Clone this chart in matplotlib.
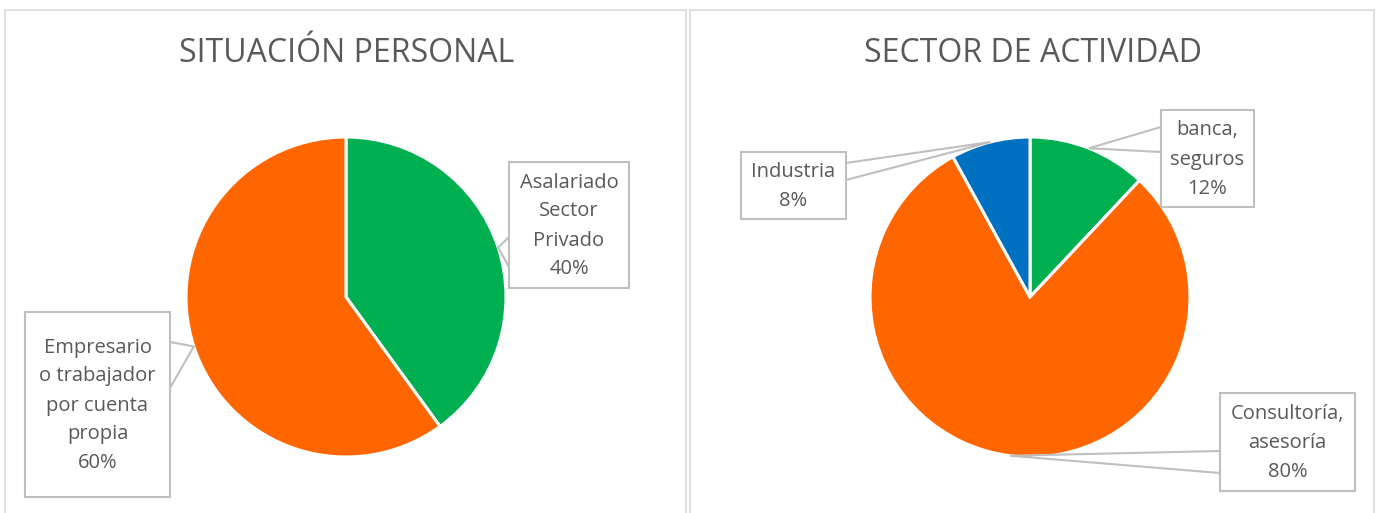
import matplotlib
matplotlib.use("Agg")
import matplotlib.pyplot as plt
from matplotlib.patches import Rectangle
import numpy as np

# ---------------- data ----------------
title_left = "SITUACIÓN PERSONAL"
cats_left = ["Asalariado\nSector\nPrivado", "Empresario\no trabajador\npor cuenta\npropia"]
vals_left = [40, 60]
colors_left = ["#00B050", "#FF6600"]

title_right = "SECTOR DE ACTIVIDAD"
cats_right = ["banca,\nseguros", "Consultoría,\nasesoría", "Industria"]
vals_right = [12, 80, 8]
colors_right = ["#00B050", "#FF6600", "#0070C0"]

# ---------------- layout (pixels, origin top-left) ----------------
W, H = 1376, 513
FONT = "Open Sans"
TXT = "#595959"
BORDER = "#D9D9D9"
BOXC = "#BFBFBF"

fig = plt.figure(figsize=(W / 100, H / 100), dpi=100)
ax = fig.add_axes([0, 0, 1, 1])

def Y(y):
    return H - y

panels = [
    dict(x0=5, x1=686, title=title_left, cats=cats_left, vals=vals_left,
         colors=colors_left, center=(346, 297), r=160,
         boxes=[(509, 162, 629, 288, 237, 267), (25, 312, 170, 497, 342, 388)]),
    dict(x0=690, x1=1374, title=title_right, cats=cats_right, vals=vals_right,
         colors=colors_right, center=(1030, 297), r=160,
         boxes=[(1161, 110, 1254, 207, 127, 152), (1220, 393, 1355, 491, 451, 473),
                (741, 152, 846, 219, 163, 180)]),
]

for p in panels:
    # panel border
    ax.add_patch(Rectangle((p["x0"], Y(H + 5)), p["x1"] - p["x0"], H + 5 - 10,
                           fill=False, edgecolor=BORDER, lw=1.2, zorder=0))
    cx, cy = p["center"]
    ax.text((p["x0"] + p["x1"]) / 2 + 1, Y(54), p["title"], ha="center", va="center",
            fontsize=23, color=TXT, family=FONT)
    wedges, _ = ax.pie(p["vals"], colors=p["colors"], startangle=90, counterclock=False,
                       center=(cx, Y(cy)), radius=p["r"],
                       wedgeprops=dict(edgecolor="white", linewidth=2.2))
    total = sum(p["vals"])
    for w, cat, v, (bx0, by0, bx1, by1, la, lb) in zip(wedges, p["cats"], p["vals"], p["boxes"]):
        mid = np.deg2rad((w.theta1 + w.theta2) / 2)
        axp = cx + p["r"] * np.cos(mid)
        ayp = Y(cy) + p["r"] * np.sin(mid)
        # leader attaches on the box side facing the pie
        ex = bx0 if bx0 > cx else bx1
        ax.plot([ex, axp, ex], [Y(la), ayp, Y(lb)], color=BOXC, lw=1.5, zorder=4,
                solid_joinstyle="miter")
        ax.add_patch(Rectangle((bx0, Y(by1)), bx1 - bx0, by1 - by0, facecolor="white",
                               edgecolor=BOXC, lw=1.5, zorder=5))
        ax.text((bx0 + bx1) / 2, Y((by0 + by1) / 2) - 1, f"{cat}\n{round(100 * v / total)}%",
                ha="center", va="center", fontsize=14.5, color=TXT, family=FONT,
                linespacing=1.6, zorder=6)

ax.set_xlim(0, W)
ax.set_ylim(0, H)
ax.set_aspect("auto")
ax.axis("off")
fig.savefig("out.png", dpi=100)
